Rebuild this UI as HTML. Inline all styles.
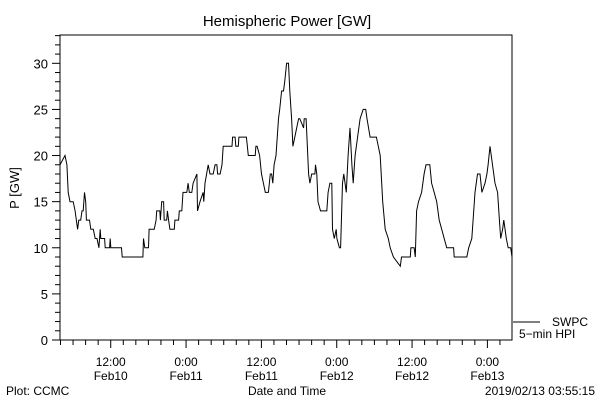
<!DOCTYPE html>
<html><head><meta charset="utf-8"><style>
body{margin:0;background:#fff;}
svg text{font-family:"Liberation Sans",sans-serif;fill:#000;}
</style></head><body>
<svg id="chart" width="600" height="400" xmlns="http://www.w3.org/2000/svg">
<text x="287" y="26" font-size="15" text-anchor="middle">Hemispheric Power [GW]</text>
<text transform="translate(19,188) rotate(-90)" font-size="13" text-anchor="middle">P [GW]</text>
<rect x="60" y="35" width="452" height="305" fill="none" stroke="#000" stroke-width="1"/>
<g id="yticks"></g><g id="xticks"></g>
<polyline id="series" fill="none" stroke="#000" stroke-width="1"/>
<line x1="513" y1="322" x2="540" y2="322" stroke="#000"/>
<text x="552" y="326" font-size="12">SWPC</text>
<text x="519" y="338" font-size="12">5−min HPI</text>
<text x="287" y="395" font-size="12" text-anchor="middle">Date and Time</text>
<text x="6" y="395" font-size="12">Plot: CCMC</text>
<text x="595" y="395" font-size="12" text-anchor="end">2019/02/13 03:55:15</text>
</svg>
<script>
const hours=[0,0.8,1.1,1.3,1.6,2.1,2.4,2.8,3.0,3.3,3.5,3.7,3.9,4.1,4.2,4.7,4.9,5.3,5.6,5.9,6.2,6.4,6.5,7.1,7.2,7.9,8.0,8.1,9.8,9.9,13.2,13.3,13.5,14.1,14.2,15.0,15.3,15.4,15.9,16.0,16.2,16.5,16.6,17.0,17.1,17.3,17.5,18.2,18.3,18.9,19.0,19.4,19.6,20.2,20.4,20.6,21.0,21.2,21.8,21.9,22.3,22.8,22.9,23.1,23.6,23.9,24.4,24.7,25.0,25.1,25.5,25.8,26.0,27.4,27.5,27.9,28.0,28.4,28.5,29.7,30.0,31.1,31.2,31.4,31.8,32.1,32.4,32.7,33.2,33.5,33.7,33.9,34.1,34.4,34.8,35.0,35.3,35.6,35.8,36.1,36.4,36.6,36.9,37.1,37.4,37.7,38.0,38.2,38.8,38.9,39.2,39.6,39.8,40.1,40.6,40.7,40.9,41.1,41.5,42.5,42.7,43.0,43.3,43.4,43.7,44.0,44.1,44.5,44.7,45.0,45.2,45.6,45.9,46.2,46.5,46.7,47.0,47.4,47.8,48.3,48.7,48.9,49.4,49.9,50.4,50.7,51.0,51.4,51.8,52.3,52.6,53.1,54.2,54.4,55.8,55.9,56.4,56.6,56.8,57.1,57.6,58.0,58.3,58.9,59.2,59.6,60.0,60.4,60.8,61.2,61.6,62.7,62.8,64.8,65.1,65.6,65.8,66.1,66.5,66.9,67.2,67.7,68.0,68.2,68.5,68.9,69.3,69.7,70.0,70.2,70.5,70.7,71.1,71.4,71.8,72.0];
const power=[19,20,19,16,15,15,14,12,13,13,14,14,16,15,13,13,12,12,11,11,10,12,11,11,10,10,11,10,10,9,9,11,10,10,12,12,13,14,14,13,15,15,13,13,14,13,12,12,13,13,14,14,16,16,17,16,16,17,18,14,15,16,15,17,19,18,18,19,19,18,18,19,21,21,22,22,21,21,22,22,20,20,21,21,20,18,17,16,16,18,18,17,19,20,24,25,27,27,28,30,30,27,24,21,22,23,24,24,23,24,24,18,17,18,18,19,18,15,14,14,16,17,17,12,11,12,11,10,10,17,18,16,20,23,19,17,20,22,24,25,25,24,22,22,22,21,20,15,12,11,10,9,8,9,9,10,10,9,14,15,16,18,19,19,17,16,15,13,12,11,10,10,9,9,10,11,13,16,18,18,16,17,18,19,21,19,17,16,13,11,12,13,11,10,10,9];
const yTickValues=[0,5,10,15,20,25,30];
const xTickHours=[8.08,20.08,32.08,44.08,56.08,68.08];
const xTickLine1=["12:00","0:00","12:00","0:00","12:00","0:00"];
const xTickLine2=["Feb10","Feb11","Feb11","Feb12","Feb12","Feb13"];
const X0=60,X1=512,Y0=340,Y1=35,HMAX=72,VMAX=33.07;
const sx=h=>X0+(h/HMAX)*(X1-X0);
const sy=v=>Y0-(v/VMAX)*(Y0-Y1);
const NS="http://www.w3.org/2000/svg";
function mk(tag,attrs,parent){const e=document.createElementNS(NS,tag);for(const k in attrs)e.setAttribute(k,attrs[k]);parent.appendChild(e);return e;}
const yg=document.getElementById('yticks');
for(let v=0;v<=33;v++){
  const major=v%5===0;
  const t=mk('line',{x1:X0-(major?8:5),x2:X0,y1:sy(v),y2:sy(v),stroke:'#000'},yg);
  
  
}
yTickValues.forEach(v=>{
  const t=mk('text',{x:48,y:sy(v)+5,'font-size':13,'text-anchor':'end'},yg);
  t.textContent=v;
  
  
});
const xg=document.getElementById('xticks');
for(let h=xTickHours[0]%2;h<=HMAX;h+=2){
  const major=xTickHours.some(m=>Math.abs(m-h)<0.01);
  const t=mk('line',{x1:sx(h),x2:sx(h),y1:Y0,y2:Y0+(major?8:5),stroke:'#000'},xg);
  
  
}
xTickHours.forEach((h,i)=>{
  const a=mk('text',{x:sx(h),y:366,'font-size':12,'text-anchor':'middle'},xg);
  a.textContent=xTickLine1[i];
  
  
  const b=mk('text',{x:sx(h),y:380,'font-size':12,'text-anchor':'middle'},xg);
  b.textContent=xTickLine2[i];
  
  
});
document.getElementById('series').setAttribute('points',hours.map((h,i)=>sx(h).toFixed(1)+','+sy(power[i]).toFixed(1)).join(' '));
</script>
</body></html>
